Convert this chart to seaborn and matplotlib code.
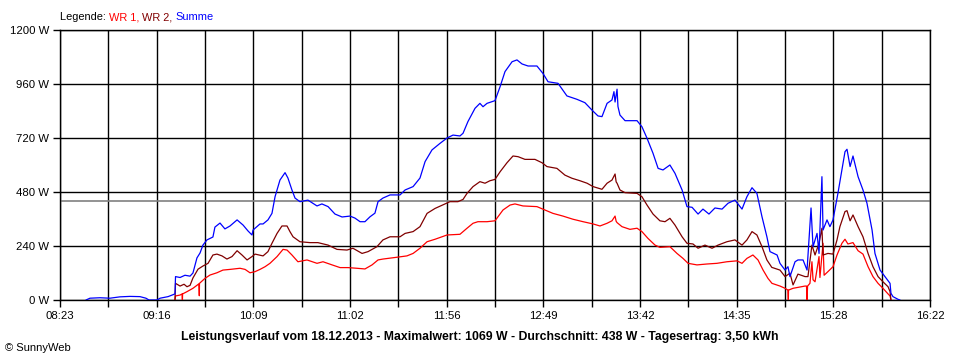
import matplotlib
matplotlib.use('Agg')
import matplotlib.pyplot as plt
import numpy as np
import pandas as pd
import seaborn as sns
from matplotlib.ticker import FixedLocator, FuncFormatter

# times are minutes after midnight, values in W
sum_time = [517.3, 519.5, 525.0, 530.5, 536.0, 541.5, 547.0, 550.3, 552.0, 556.4, 558.1, 562.5,
            566.3, 566.6, 569.1, 571.8, 574.6, 576.2, 578.4, 580.1, 581.7, 583.9, 587.2, 588.3,
            591.1, 593.8, 596.6, 600.5, 603.8, 606.5, 608.7, 609.3, 613.1, 614.8, 617.5, 619.7,
            621.4, 624.1, 626.9, 628.5, 630.7, 632.4, 635.1, 639.5, 644.5, 647.2, 650.6, 654.4,
            658.3, 662.7, 665.4, 668.2, 670.9, 673.7, 676.4, 678.1, 680.8, 684.7, 690.2, 693.0,
            697.4, 701.2, 704.0, 707.8, 712.2, 716.1, 719.4, 723.2, 724.9, 727.6, 731.5, 734.2,
            735.9, 738.1, 742.5, 745.3, 748.0, 751.9, 754.6, 757.4, 760.7, 765.6, 768.9, 771.7,
            777.2, 782.1, 787.6, 792.0, 795.9, 799.2, 801.4, 804.2, 806.9, 808.0, 808.6, 809.7,
            810.2, 811.3, 814.1, 820.7, 823.4, 826.2, 829.5, 832.3, 835.0, 838.8, 841.6, 845.5,
            848.2, 851.0, 854.3, 857.0, 860.3, 863.6, 867.5, 870.8, 874.6, 878.5, 881.2, 884.0,
            886.7, 889.5, 892.2, 893.9, 897.8, 899.4, 902.2, 903.8, 904.9, 907.7, 909.3, 912.1,
            914.3, 916.5, 917.6, 919.8, 920.9, 922.5, 923.1, 925.3, 926.9, 928.6, 931.3, 933.5,
            935.2, 936.3, 938.0, 939.6, 942.4, 945.1, 947.3, 950.1, 951.7, 954.5, 957.2, 960.0,
            960.5, 961.6, 964.4, 965.5]
sum_watt = [0, 8, 10, 8, 14, 16, 15, 8, 0, 0, 8, 15,
            27, 104, 100, 110, 106, 120, 187, 209, 244, 267, 280, 324,
            342, 316, 329, 356, 333, 307, 289, 311, 338, 338, 356, 385,
            459, 533, 566, 542, 489, 453, 437, 444, 418, 427, 415, 382,
            369, 373, 364, 348, 348, 370, 386, 437, 453, 467, 467, 489,
            504, 542, 615, 667, 696, 720, 733, 729, 741, 793, 852, 874,
            859, 874, 886, 948, 1015, 1059, 1067, 1049, 1040, 1040, 1007, 970,
            963, 907, 892, 877, 844, 818, 815, 874, 889, 926, 880, 937,
            860, 822, 797, 797, 770, 719, 652, 585, 578, 600, 563, 489,
            415, 412, 382, 404, 382, 409, 404, 430, 444, 404, 459, 499,
            474, 370, 281, 215, 200, 163, 133, 148, 104, 170, 178, 178,
            133, 409, 237, 296, 207, 548, 311, 356, 326, 356, 474, 578,
            659, 670, 593, 640, 548, 489, 430, 311, 207, 133, 104, 74,
            30, 15, 3, 0]

wr2_time = [566.3, 566.6, 569.1, 571.3, 572.9, 574.6, 576.2, 579.0, 581.7, 584.5, 587.2, 589.4,
            592.2, 594.9, 597.7, 600.5, 603.2, 606.0, 608.7, 610.4, 614.8, 617.5, 619.7, 622.5,
            625.2, 628.0, 629.6, 631.3, 635.1, 640.6, 645.0, 650.6, 655.5, 661.0, 664.3, 669.3,
            672.6, 677.5, 680.8, 684.7, 690.2, 693.0, 697.4, 701.2, 705.1, 709.5, 715.0, 717.7,
            722.1, 724.9, 727.1, 730.4, 734.2, 737.0, 739.7, 742.5, 745.3, 749.1, 752.4, 755.2,
            759.0, 764.5, 768.4, 771.1, 776.6, 781.0, 784.9, 789.3, 793.2, 796.5, 801.4, 804.2,
            806.9, 808.6, 809.2, 809.7, 811.3, 814.1, 820.7, 823.4, 826.2, 829.5, 833.3, 836.1,
            838.8, 841.6, 845.5, 848.2, 851.5, 854.3, 858.1, 862.0, 865.3, 870.2, 874.6, 878.5,
            881.2, 884.0, 886.7, 889.5, 892.2, 894.9, 899.4, 902.2, 904.9, 906.6, 909.3, 913.2,
            914.8, 917.0, 918.7, 920.9, 922.5, 923.1, 925.8, 928.6, 930.8, 932.4, 935.2, 936.3,
            938.0, 939.6, 942.4, 945.1, 947.9, 950.6, 953.4, 956.1, 958.9, 960.0, 960.5]
wr2_watt = [0, 74, 62, 70, 59, 65, 98, 137, 151, 163, 200, 204,
            196, 182, 193, 219, 200, 178, 193, 204, 196, 215, 252, 296,
            329, 329, 304, 281, 259, 255, 255, 244, 225, 222, 230, 207,
            215, 237, 267, 281, 281, 296, 304, 326, 385, 407, 427, 437,
            437, 447, 474, 504, 526, 519, 530, 536, 570, 610, 640, 637,
            625, 625, 610, 593, 585, 555, 541, 530, 519, 504, 492, 519,
            533, 560, 525, 519, 489, 477, 474, 459, 422, 382, 352, 348,
            363, 333, 281, 252, 249, 230, 244, 230, 244, 259, 267, 244,
            267, 304, 289, 237, 178, 145, 133, 104, 119, 67, 115, 104,
            104, 244, 200, 252, 319, 200, 207, 204, 267, 326, 393, 397,
            352, 378, 326, 281, 207, 148, 104, 81, 59, 37, 0]

wr1_time = [566.3, 566.6, 569.1, 570.2, 570.4, 570.5, 572.9, 576.2, 579.5, 579.7, 579.8, 582.8,
            585.6, 589.4, 592.7, 596.6, 602.1, 604.9, 607.6, 610.4, 613.1, 615.9, 618.6, 622.5,
            625.8, 628.0, 630.7, 634.0, 639.0, 644.5, 647.8, 652.8, 657.2, 661.6, 666.5, 670.9,
            674.8, 678.1, 680.8, 688.5, 694.0, 697.4, 701.2, 705.1, 709.5, 716.1, 723.2, 727.1,
            730.4, 733.1, 738.1, 742.5, 746.9, 750.8, 753.5, 757.9, 765.6, 770.0, 774.4, 779.9,
            785.4, 791.0, 796.5, 800.3, 804.2, 806.9, 808.6, 809.2, 809.7, 812.4, 816.8, 820.7,
            823.4, 826.7, 830.6, 833.3, 838.8, 842.7, 846.0, 848.8, 853.7, 859.2, 864.7, 870.2,
            875.7, 878.5, 881.2, 884.5, 887.3, 890.1, 892.8, 895.0, 899.4, 902.2, 903.8, 904.0,
            904.1, 906.6, 913.2, 914.0, 914.3, 914.6, 915.9, 917.0, 917.6, 918.7, 920.9, 921.4,
            923.1, 923.7, 925.8, 928.6, 930.8, 933.5, 935.2, 936.8, 939.6, 942.4, 945.1, 947.9,
            950.6, 953.4, 956.1, 958.9, 960.0, 960.5]
wr1_watt = [0, 18, 22, 27, 0, 27, 37, 52, 72, 19, 74, 96,
            111, 121, 133, 136, 141, 136, 121, 126, 136, 148, 163, 193,
            225, 222, 200, 170, 178, 163, 170, 156, 144, 144, 141, 138,
            156, 178, 182, 190, 196, 207, 230, 259, 270, 289, 292, 319,
            341, 348, 348, 352, 400, 422, 427, 418, 415, 400, 385, 373,
            359, 348, 338, 329, 341, 352, 373, 350, 344, 326, 314, 319,
            304, 274, 244, 234, 237, 207, 185, 163, 156, 160, 163, 170,
            174, 163, 185, 200, 178, 133, 96, 74, 62, 52, 44, 0,
            44, 52, 62, 62, 0, 62, 74, 170, 90, 81, 193, 100,
            252, 110, 126, 148, 200, 252, 270, 249, 255, 219, 204, 148,
            104, 74, 52, 27, 18, 0]

avg_watt = 438
tick_labels = ['08:23', '09:16', '10:09', '11:02', '11:56', '12:49', '13:42', '14:35', '15:28', '16:22']
y_ticks = [0, 240, 480, 720, 960, 1200]
title = ('Leistungsverlauf vom 18.12.2013 - Maximalwert: 1069 W - Durchschnitt: 438 W'
         ' - Tagesertrag: 3,50 kWh')

sns.set_theme(style='white')
plt.rcParams['font.family'] = ['Liberation Sans', 'DejaVu Sans']

fig = plt.figure(figsize=(9.6, 3.6), dpi=100)
ax = fig.add_axes([60 / 960, 60 / 360, 870 / 960, 270 / 360])

df = pd.concat([
    pd.DataFrame({'t': wr1_time, 'w': wr1_watt, 'serie': 'WR 1'}),
    pd.DataFrame({'t': wr2_time, 'w': wr2_watt, 'serie': 'WR 2'}),
    pd.DataFrame({'t': sum_time, 'w': sum_watt, 'serie': 'Summe'}),
])
palette = {'WR 1': '#ff0000', 'WR 2': '#800000', 'Summe': '#0000ff'}
sns.lineplot(data=df, x='t', y='w', hue='serie', palette=palette, estimator=None,
             sort=False, linewidth=0.9, legend=False, ax=ax, zorder=3)

ax.axhline(avg_watt, color='#808080', lw=1.2, zorder=2)

# axes and grid
major = [int(s[:2]) * 60 + int(s[3:]) for s in tick_labels]
start, end = major[0], major[-1]
grid_x = np.linspace(start, end, 19)
ax.set_xlim(start, end)
ax.set_ylim(0, 1200)
ax.xaxis.set_major_locator(FixedLocator(grid_x[::2]))
ax.xaxis.set_minor_locator(FixedLocator(grid_x[1::2]))
ax.set_xticklabels(tick_labels)
ax.yaxis.set_major_locator(FixedLocator(y_ticks))
ax.yaxis.set_major_formatter(FuncFormatter(lambda v, p: f'{int(v)} W'))
ax.grid(True, which='both', axis='x', color='black', lw=1.0, zorder=1)
ax.grid(True, which='major', axis='y', color='black', lw=1.0, zorder=1)
ax.tick_params(which='both', direction='out', length=5, width=1.0, color='black',
               labelsize=8.2, labelcolor='black', pad=3, bottom=True, left=True)
ax.tick_params(axis='x', pad=3)
for spine in ax.spines.values():
    spine.set_color('black')
    spine.set_linewidth(1.0)
ax.set_xlabel('')
ax.set_ylabel('')

fig.text(480 / 960, 1 - 337 / 360, title, ha='center', va='center', fontsize=8.8,
         fontweight='bold', color='black')
fig.text(5 / 960, 1 - 348 / 360, '\u00a9 SunnyWeb', ha='left', va='center', fontsize=8,
         color='black')

# legend in one row, coloured words
renderer = fig.canvas.get_renderer()
x = 60 / 960
for word, col in [('Legende: ', 'black'), ('WR 1, ', '#ff0000'), ('WR 2, ', '#800000'),
                  ('Summe', '#0000ff')]:
    t = fig.text(x, 1 - 17 / 360, word, ha='left', va='center', fontsize=7.9, color=col)
    bb = t.get_window_extent(renderer=renderer)
    x += bb.width / fig.bbox.width

fig.savefig('out.png', dpi=100)
print('done')
